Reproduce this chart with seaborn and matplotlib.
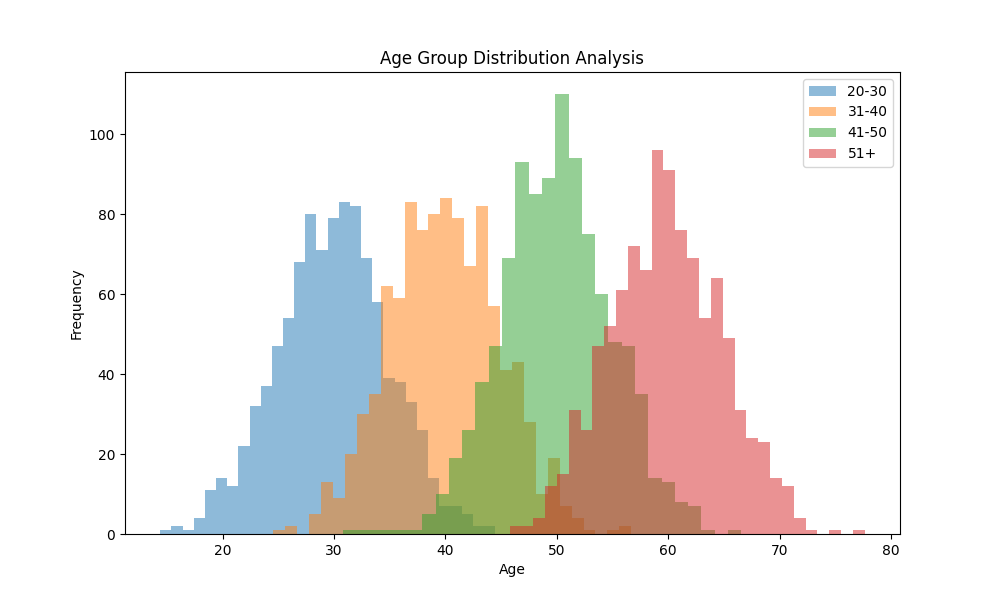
import numpy as np
import pandas as pd
import matplotlib
matplotlib.use("Agg")
import matplotlib.pyplot as plt
import seaborn as sns

groups = ["20-30", "31-40", "41-50", "51+"]

# data range (min, max) of each group -> 30 equal bins each
range_20_30 = (14.41, 44.46)
range_31_40 = (24.57, 56.68)
range_41_50 = (30.77, 66.56)
range_51p = (45.76, 77.64)

counts_20_30 = [1, 2, 1, 4, 11, 14, 12, 22, 32, 37, 47, 54, 68, 80, 71,
                79, 83, 82, 69, 58, 39, 38, 33, 26, 14, 7, 7, 5, 2, 2]
counts_31_40 = [1, 2, 0, 5, 13, 9, 20, 30, 35, 62, 59, 83, 76, 80, 84,
                79, 67, 82, 57, 41, 43, 28, 10, 19, 7, 4, 1, 0, 1, 2]
counts_41_50 = [1, 1, 1, 1, 1, 1, 5, 10, 19, 26, 38, 47, 69, 93, 85,
                89, 110, 94, 75, 60, 48, 47, 35, 14, 13, 8, 7, 1, 0, 1]
counts_51p = [2, 2, 4, 12, 15, 31, 26, 47, 52, 61, 72, 66, 96, 91, 76,
              69, 54, 64, 49, 31, 24, 23, 14, 12, 4, 1, 0, 1, 0, 1]

ranges = [range_20_30, range_31_40, range_41_50, range_51p]
counts = [counts_20_30, counts_31_40, counts_41_50, counts_51p]
colors = ["#1f77b4", "#ff7f0e", "#2ca02c", "#d62728"]

fig, ax = plt.subplots(figsize=(10, 6), dpi=100)

for name, (lo, hi), cnt, col in zip(groups, ranges, counts, colors):
    edges = np.linspace(lo, hi, len(cnt) + 1)
    centers = (edges[:-1] + edges[1:]) / 2
    df = pd.DataFrame({"age": centers, "n": cnt})
    sns.histplot(data=df, x="age", weights="n", bins=edges.tolist(),
                 color=col, alpha=0.5, linewidth=0, edgecolor="none",
                 label=name, ax=ax)

ax.set_title("Age Group Distribution Analysis")
ax.set_xlabel("Age")
ax.set_ylabel("Frequency")
ax.legend(loc="upper right")

fig.savefig("out.png", dpi=100)
